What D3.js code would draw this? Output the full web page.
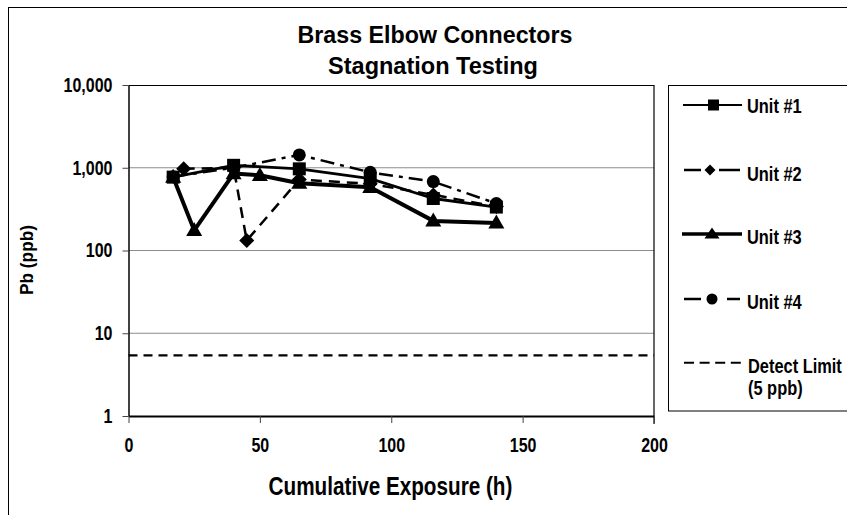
<!DOCTYPE html>
<html><head><meta charset="utf-8">
<script src="https://cdn.jsdelivr.net/npm/d3@7"></script>
<style>
body{margin:0;background:#fff;}
text{font-family:"Liberation Sans",Arial,sans-serif;fill:#000;}
</style></head><body>
<svg id="c" width="847" height="515"></svg>
<script>
const titleLines = ["Brass Elbow Connectors", "Stagnation Testing"];
const xTicks = [0, 50, 100, 150, 200];
const yTicks = [1, 10, 100, 1000, 10000];
const yTickLabels = ["1", "10", "100", "1,000", "10,000"];

const unit1X = [17, 40, 65, 92, 116, 140];
const unit1Y = [770, 1070, 970, 740, 425, 335];
const unit2X = [21, 40, 45, 65, 92, 116, 140];
const unit2Y = [970, 1000, 132, 720, 640, 470, 340];
const unit3X = [17, 25, 40, 50, 65, 92, 116, 140];
const unit3Y = [770, 175, 850, 810, 650, 580, 228, 215];
const unit4X = [17, 40, 65, 92, 116, 140];
const unit4Y = [780, 1000, 1430, 880, 680, 370];
const detectLimit = 5.4;
const seriesNames = ["Unit #1", "Unit #2", "Unit #3", "Unit #4"];
const detectLabel = ["Detect Limit", "(5 ppb)"];

const svg = d3.select("#c");
const L = 128.5, R = 654, T = 85, B = 416;
const x = d3.scaleLinear().domain([0, 200]).range([L, R]);
const y = d3.scaleLog().domain([1, 10000]).range([B, T]);
const NARROW = 0.8;

function label(parent, str, px, py, size, anchor, opts = {}) {
  const g = parent.append("g").attr("transform", `translate(${px},${py})`);
  const t = g.append("text").attr("text-anchor", anchor).style("font-size", size + "px")
    .style("font-weight", opts.normal ? "normal" : "bold").text(str);
  let sx = opts.sx || NARROW;
  if (opts.width) sx = opts.width / t.node().getComputedTextLength();
  t.attr("transform", `scale(${sx},1)`);
  if (opts.rotate) g.attr("transform", `translate(${px},${py}) rotate(${opts.rotate})`);
  return t;
}

const shapes = {
  square: (w) => ({draw(c){ c.rect(-w/2, -w/2, w, w); }}),
  diamond: (w, h) => ({draw(c){ c.moveTo(0,-h/2); c.lineTo(w/2,0); c.lineTo(0,h/2); c.lineTo(-w/2,0); c.closePath(); }}),
  triangle: (w, h) => ({draw(c){ c.moveTo(0,-h*0.6); c.lineTo(w/2,h*0.4); c.lineTo(-w/2,h*0.4); c.closePath(); }}),
  circle: (w) => ({draw(c){ c.moveTo(w/2,0); c.arc(0,0,w/2,0,2*Math.PI); }})
};

svg.append("rect").attr("x", 8.5).attr("y", 7.5).attr("width", 860).attr("height", 520)
  .attr("fill", "none").attr("stroke", "#000").attr("stroke-width", 1);

label(svg, titleLines[0], 435, 42.5, 24, "middle", {width: 275});
label(svg, titleLines[1], 433, 73.5, 24, "middle", {width: 210});

svg.append("g").selectAll("line").data([10, 100, 1000]).enter().append("line")
  .attr("x1", L).attr("x2", R).attr("y1", d => y(d)).attr("y2", d => y(d))
  .attr("stroke", "#8c8c8c").attr("stroke-width", 1);

svg.append("line").attr("x1", L).attr("x2", R).attr("y1", T + 0.5).attr("y2", T + 0.5).attr("stroke", "#000");
svg.append("line").attr("x1", R).attr("x2", R).attr("y1", T).attr("y2", B + 8).attr("stroke", "#000").attr("stroke-width", 1.2);

const xAxis = d3.axisBottom(x).tickValues(xTicks).tickSize(7).tickSizeOuter(0).tickPadding(15).tickFormat(d3.format("d"));
const gx = svg.append("g").attr("transform", `translate(0,${B})`).call(xAxis);
gx.select(".domain").attr("stroke-width", 2);
gx.selectAll(".tick line").attr("stroke", "#444");
gx.selectAll("text").style("font-size", "20px").style("font-weight", "bold").attr("transform", `scale(${NARROW},1)`);

const yAxis = d3.axisLeft(y).tickValues(yTicks).tickSize(6).tickSizeOuter(0).tickPadding(10)
  .tickFormat((d, i) => yTickLabels[i]);
const gy = svg.append("g").attr("transform", `translate(${L},0)`).call(yAxis);
gy.select(".domain").attr("stroke-width", 1.5);
gy.selectAll(".tick line").attr("stroke", "#444");
gy.selectAll("text").style("font-size", "20px").style("font-weight", "bold").each(function(){
  const el = d3.select(this); const tx = +el.attr("x");
  el.attr("x", 0).attr("transform", `translate(${tx},0) scale(${NARROW},1)`);
});

label(svg, "Cumulative Exposure (h)", 390.5, 495, 25, "middle", {width: 244});
label(svg, "Pb (ppb)", 33, 260, 18, "middle", {width: 70, rotate: -90});

svg.append("line").attr("x1", L).attr("x2", R).attr("y1", y(detectLimit)).attr("y2", y(detectLimit))
  .attr("stroke", "#000").attr("stroke-width", 2.2).attr("stroke-dasharray", "9,6");

const series = [
  {name: seriesNames[0], xs: unit1X, ys: unit1Y, w: 2.8, dash: null, sym: shapes.square(13), leg: shapes.square(11)},
  {name: seriesNames[1], xs: unit2X, ys: unit2Y, w: 2.5, dash: "11,7", sym: shapes.diamond(15, 15), leg: shapes.diamond(11, 11)},
  {name: seriesNames[2], xs: unit3X, ys: unit3Y, w: 4, dash: null, sym: shapes.triangle(16, 14), leg: shapes.triangle(15, 11)},
  {name: seriesNames[3], xs: unit4X, ys: unit4Y, w: 2.5, dash: "14,6,4,6", sym: shapes.circle(13), leg: shapes.circle(11)}
];

const line = d3.line().x(d => x(d[0])).y(d => y(d[1]));
series.forEach(s => {
  const pts = s.xs.map((v, i) => [v, s.ys[i]]);
  svg.append("path").datum(pts).attr("d", line).attr("fill", "none")
    .attr("stroke", "#000").attr("stroke-width", s.w).attr("stroke-linejoin", "round")
    .attr("stroke-dasharray", s.dash);
  svg.append("g").selectAll("path").data(pts).enter().append("path")
    .attr("d", d3.symbol().type(s.sym).size(1))
    .attr("transform", d => `translate(${x(d[0])},${y(d[1])})`).attr("fill", "#000");
});

svg.append("rect").attr("x", 668.5).attr("y", 85.5).attr("width", 200).attr("height", 325.5)
  .attr("fill", "#fff").attr("stroke", "#000").attr("stroke-width", 1);
const legLineY = [105, 170, 234, 299];
const legTextY = [113.3, 180.5, 244.2, 309];
const legMarkX = [713.5, 710, 712, 712];
const legendLines = [
  {segs: [[683, 742]], w: 2},
  {segs: [[684, 701], [719, 740]], w: 2.5},
  {segs: [[682, 742]], w: 3.5},
  {segs: [[684, 701], [727, 740]], w: 2.5}
];
series.forEach((s, i) => {
  const g = svg.append("g");
  g.selectAll("line").data(legendLines[i].segs).enter().append("line")
    .attr("x1", d => d[0]).attr("x2", d => d[1]).attr("y1", legLineY[i]).attr("y2", legLineY[i])
    .attr("stroke", "#000").attr("stroke-width", legendLines[i].w);
  g.append("path").attr("d", d3.symbol().type(s.leg).size(1))
    .attr("transform", `translate(${legMarkX[i]},${legLineY[i]})`).attr("fill", "#000");
  label(g, s.name, 747, legTextY[i], 20.5, "start");
});
svg.append("line").attr("x1", 684).attr("x2", 741).attr("y1", 362.7).attr("y2", 362.7)
  .attr("stroke", "#000").attr("stroke-width", 2).attr("stroke-dasharray", "10,5.6");
label(svg, detectLabel[0], 748, 372.5, 20.5, "start");
label(svg, detectLabel[1], 748, 395, 20.5, "start");
</script></body></html>
